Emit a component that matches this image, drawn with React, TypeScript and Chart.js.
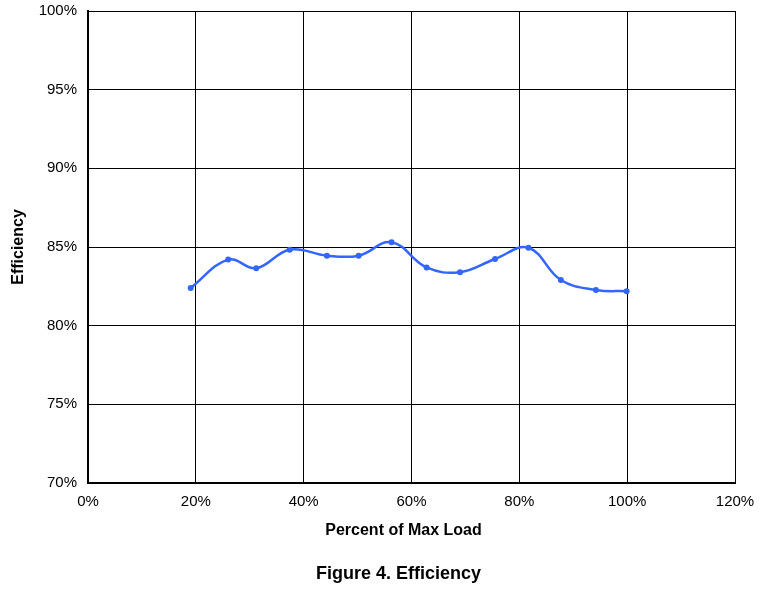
import React, { useEffect, useRef } from "react";
import { Chart, registerables } from "chart.js";

Chart.register(...registerables);

const loadPercent = [19.05, 26.0, 31.2, 37.4, 44.3, 50.2, 56.3, 62.8, 69.0, 75.5, 81.7, 87.7, 94.2, 99.9];
const efficiency = [82.4, 84.2, 83.65, 84.83, 84.45, 84.45, 85.3, 83.7, 83.4, 84.24, 84.95, 82.9, 82.27, 82.19];

const xTitle = "Percent of Max Load";
const yTitle = "Efficiency";
const figureTitle = "Figure 4. Efficiency";

const fontFamily = "'Liberation Sans', Arial, sans-serif";

const captionPlugin = {
  id: "captions",
  afterDraw(chart: any) {
    const { ctx, chartArea } = chart;
    const cx = (chartArea.left + chartArea.right) / 2;
    ctx.save();
    ctx.fillStyle = "#000";
    ctx.textAlign = "center";
    ctx.textBaseline = "middle";
    ctx.font = `bold 16px ${fontFamily}`;
    ctx.fillText(xTitle, cx - 8, chartArea.bottom + 48);
    ctx.font = `bold 18px ${fontFamily}`;
    ctx.fillText(figureTitle, cx - 13, chartArea.bottom + 91.5);
    ctx.restore();
  },
};

export default function App() {
  const ref = useRef<HTMLCanvasElement | null>(null);

  useEffect(() => {
    if (!ref.current) return;
    const data = loadPercent.map((x, i) => ({ x, y: efficiency[i] }));
    const chart = new Chart(ref.current, {
      type: "scatter",
      data: {
        datasets: [
          {
            data,
            showLine: true,
            borderColor: "#3366ff",
            backgroundColor: "#3366ff",
            borderWidth: 2.5,
            pointRadius: 3,
            pointHoverRadius: 3,
            pointBorderWidth: 0,
            tension: 0.4,
          },
        ],
      },
      options: {
        responsive: false,
        animation: false,
        layout: { padding: { top: 11, right: 34, left: 0, bottom: 37 } },
        plugins: {
          legend: { display: false },
          tooltip: { enabled: false },
        },
        scales: {
          x: {
            type: "linear",
            min: 0,
            max: 120,
            afterFit: (s: any) => {
              s.height = 72;
            },
            ticks: {
              stepSize: 20,
              color: "#000",
              padding: 0,
              font: { family: fontFamily, size: 15 },
              callback: (v: any) => v + "%",
            },
            grid: { color: "#000", lineWidth: 1, drawTicks: true, tickLength: 10, tickColor: "rgba(0,0,0,0)" },
            border: { color: "#000", width: 2 },
          },
          y: {
            type: "linear",
            min: 70,
            max: 100,
            afterFit: (s: any) => {
              s.width = 88;
            },
            ticks: {
              stepSize: 5,
              color: "#000",
              padding: 0,
              font: { family: fontFamily, size: 15 },
              callback: (v: any) => v + "%",
            },
            grid: { color: "#000", lineWidth: 1, drawTicks: true, tickLength: 11, tickColor: "rgba(0,0,0,0)" },
            border: { color: "#000", width: 2 },
            title: {
              display: true,
              text: yTitle,
              color: "#000",
              font: { family: fontFamily, size: 16, weight: "bold", lineHeight: 1.2 },
              padding: { top: 9, bottom: 4 },
            },
          },
        },
      },
      plugins: [captionPlugin],
    });
    return () => chart.destroy();
  }, []);

  return (
    <div style={{ position: "absolute", left: 0, top: 0, width: 769, height: 592, background: "#fff" }}>
      <canvas ref={ref} width={769} height={592} style={{ display: "block" }} />
    </div>
  );
}
